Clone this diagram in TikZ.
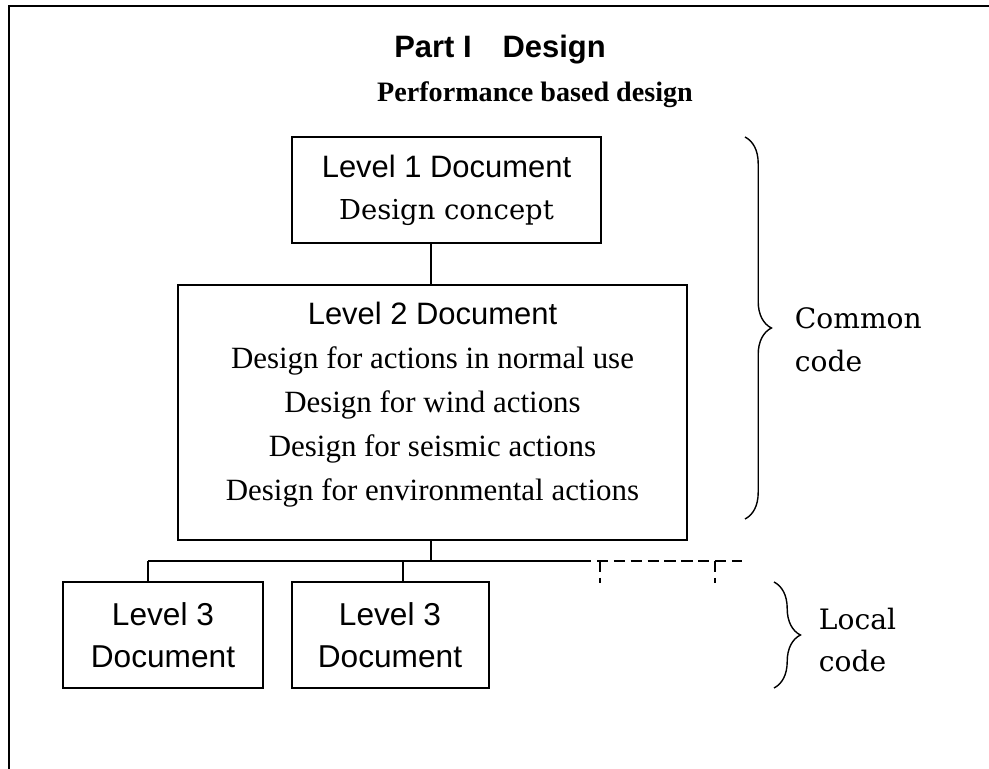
\documentclass[tikz,border=0pt]{standalone}
\usepackage{fontspec}
\setmainfont{Liberation Serif}
\setsansfont{Liberation Sans}
\newfontfamily\widerm{DejaVu Serif}
\usetikzlibrary{calc,decorations.pathreplacing}

\tikzset{
	docbox/.style={draw, line width=0.5mm, rectangle, align=center, inner sep=0pt},
	joinline/.style={line width=0.35mm},
	openline/.style={line width=0.35mm, dash pattern=on 8pt off 4pt},
	sidetext/.style={align=left, anchor=west, font=\widerm\fontsize{20}{30.5}\selectfont},
	codebrace/.style={decorate, decoration={brace, amplitude=0.66cm}, line width=0.35mm},
}

\begin{document}
\begin{tikzpicture}[x=0.025cm, y=-0.025cm]
			\def\px{0.025cm};
			\useasboundingbox (0,0) rectangle (989,769);
			\draw[line width=0.45mm] (9,769) -- (9,6) -- (989,6);
			
			\node[anchor=base, font=\sffamily\bfseries\fontsize{22}{26}\selectfont] (title) at (500,58) {Part I\quad Design};
			\node[anchor=base, font=\bfseries\fontsize{20}{24}\selectfont] (subtitle) at (535,101) {Performance based design};
			
			\node[docbox, minimum width=309*\px, minimum height=106*\px, font=\fontsize{22}{29.9}\selectfont] (lvl1) at (446.5,190) {{\sffamily Level 1 Document}\\{\widerm\fontsize{19.5}{29.9}\selectfont Design concept}};
			
			\node[docbox, minimum width=509*\px, minimum height=255*\px] (lvl2) at (432.5,412.5) {};
			\node[align=center, font=\fontsize{22}{31.3}\selectfont] (lvl2txt) at (432.5,405) {{\sffamily Level 2 Document}\\Design for actions in normal use\\Design for wind actions\\Design for seismic actions\\Design for environmental actions};
			
			\node[docbox, minimum width=200*\px, minimum height=106*\px, font=\sffamily\fontsize{22.5}{29.5}\selectfont] (lvl3a) at (163,635) {Level 3\\Document};
			\node[docbox, minimum width=197*\px, minimum height=106*\px, font=\sffamily\fontsize{22.5}{29.5}\selectfont] (lvl3b) at (390,635) {Level 3\\Document};
			
			\coordinate (stem) at (431,561);
			\coordinate (busL) at (148,561);
			\coordinate (busM) at (403,561);
			\coordinate (busS) at (580,561);
			\coordinate (busR) at (742,561);
			\coordinate (dropA) at (600,561);
			\coordinate (dropB) at (715,561);
			\coordinate (dropAend) at (600,583);
			\coordinate (dropBend) at (715,583);
			
			\draw[joinline] (lvl1.south -| stem) -- (lvl2.north -| stem);
			\draw[joinline] (lvl2.south -| stem) -- (stem);
			\draw[joinline] (busL) -- (busS);
			\draw[openline] (busS) -- (busR);
			\draw[joinline] (busL) -- (lvl3a.north -| busL);
			\draw[joinline] (busM) -- (lvl3b.north -| busM);
			\draw[openline] (dropA) -- (dropAend);
			\draw[openline] (dropB) -- (dropBend);
			
			\coordinate (commonTop) at (745,137);
			\coordinate (commonBot) at (745,519);
			\coordinate (localTop) at (774,582);
			\coordinate (localBot) at (774,688);
			\draw[codebrace] (commonTop) -- (commonBot);
			\draw[codebrace] (localTop) -- (localBot);
			\node[sidetext] (common) at (790,340) {Common\\code};
			\node[sidetext] (local) at (814,640) {Local\\code};
\end{tikzpicture}
\end{document}
